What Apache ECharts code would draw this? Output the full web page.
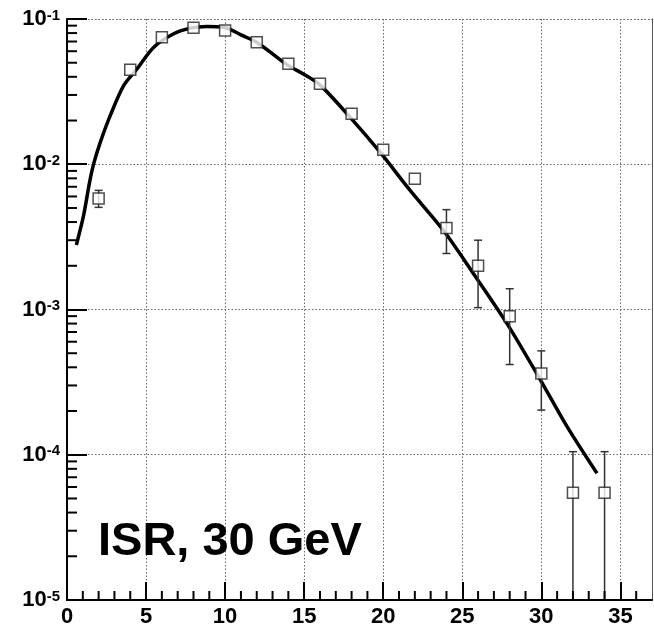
<!DOCTYPE html>
<html>
<head>
<meta charset="utf-8">
<script src="https://cdn.jsdelivr.net/npm/echarts@6/dist/echarts.min.js"></script>
<style>
  html, body { margin: 0; padding: 0; background: #fff; }
  #chart-container { width: 654px; height: 628px; }
</style>
</head>
<body>
<div id="chart-container"></div>
<script>
// measured points (open squares)
var pointX = [2, 4, 6, 8, 10, 12, 14, 16, 18, 20, 22, 24, 26, 28, 30, 32, 34];
var pointY = [5.8e-3, 0.0448, 0.075, 0.087, 0.0833, 0.0692, 0.0492, 0.0358, 0.0223,
              0.0126, 7.96e-3, 3.64e-3, 2.0e-3, 9.0e-4, 3.63e-4, 5.48e-5, 5.48e-5];
// error bar ends (null = hidden inside the marker)
var errHigh = [6.61e-3, null, null, null, null, null, null, null, null,
               null, null, 4.87e-3, 3.0e-3, 1.39e-3, 5.19e-4, 1.05e-4, 1.05e-4];
var errLow = [5.05e-3, null, null, null, null, null, null, null, null,
              null, null, 2.43e-3, 1.03e-3, 4.18e-4, 2.03e-4, 1e-6, 1e-6];

// fitted curve
var curveX = [0.59, 1.05, 1.43, 1.69, 2.11, 2.74, 3.59, 4.43, 5.49, 6.75, 7.8, 8.86,
              9.92, 10.97, 12.0, 13.9, 15.0, 16.0, 17.9, 19.8, 21.7, 23.8, 25.7, 27.83,
              29.83, 31.63, 33.52];
var curveY = [2.78e-3, 4.45e-3, 7.54e-3, 0.0101, 0.0142, 0.0217, 0.0349, 0.0454, 0.064,
              0.0791, 0.0865, 0.0888, 0.0878, 0.078, 0.0692, 0.0485, 0.0415, 0.0352, 0.0211,
              0.0121, 6.61e-3, 3.51e-3, 1.77e-3, 8.0e-4, 3.44e-4, 1.56e-4, 7.45e-5];

var xMin = 0, xMax = 37, yMin = 1e-5, yMax = 1e-1;
var label = 'ISR, 30 GeV';

var dom = document.getElementById('chart-container');
var myChart = echarts.init(dom, null, { renderer: 'canvas' });

var points = pointX.map(function (x, i) { return [x, pointY[i]]; });
var curve = curveX.map(function (x, i) { return [x, curveY[i]]; });
var errors = [];
pointX.forEach(function (x, i) {
  if (errHigh[i] != null) errors.push([x, errLow[i], errHigh[i]]);
});

// minor ticks: [x, y, 0 = on x axis / 1 = on y axis]
var minorTicks = [];
for (var k = 1; k < xMax; k++) if (k % 5 !== 0) minorTicks.push([k, yMin, 0]);
for (var d = -5; d < -1; d++) {
  for (var m = 2; m <= 9; m++) minorTicks.push([xMin, m * Math.pow(10, d), 1]);
}

var labelFont = 'Liberation Sans, Arial, sans-serif';
var tickColor = '#000';

option = {
  animation: false,
  grid: { left: 67, right: 2, top: 19, bottom: 28 },
  xAxis: {
    type: 'value',
    min: xMin,
    max: xMax,
    interval: 5,
    axisLine: { show: true, onZero: false, lineStyle: { color: '#000', width: 2 } },
    axisTick: { show: true, inside: true, length: 18, lineStyle: { color: tickColor, width: 2 } },
    axisLabel: {
      showMaxLabel: false,
      margin: 6,
      color: '#000',
      fontFamily: labelFont,
      fontWeight: 'bold',
      fontSize: 22,
      formatter: function (v) { return v % 5 === 0 ? String(v) : ''; }
    },
    splitLine: { show: true, lineStyle: { color: '#666', type: [1.5, 2], width: 1 } }
  },
  yAxis: [
    {
      type: 'log',
      min: yMin,
      max: yMax,
      logBase: 10,
      axisLine: { show: true, lineStyle: { color: '#000', width: 2 } },
      axisTick: { show: true, inside: true, length: 20, lineStyle: { color: tickColor, width: 2 } },
      axisLabel: {
        margin: 7,
        color: '#000',
        formatter: function (v) {
          return '{b|10}{s|' + Math.round(Math.log10(v)) + '}';
        },
        rich: {
          b: { fontFamily: labelFont, fontWeight: 'bold', fontSize: 22, lineHeight: 22, color: '#000' },
          s: { fontFamily: labelFont, fontWeight: 'bold', fontSize: 15, lineHeight: 15, verticalAlign: 'top', color: '#000', padding: [0, 0, 8, 0] }
        }
      },
      splitLine: { show: true, lineStyle: { color: '#666', type: [1.5, 2], width: 1 } }
    },
    {
      type: 'log',
      min: yMin,
      max: yMax,
      position: 'right',
      axisLine: { show: true, lineStyle: { color: '#555', width: 1 } },
      axisTick: { show: false },
      axisLabel: { show: false },
      splitLine: { show: false }
    }
  ],
  graphic: [
    {
      type: 'text',
      left: 98,
      top: 519,
      style: {
        text: label,
        font: 'bold 47px ' + labelFont,
        fill: '#000'
      },
      z: 10
    }
  ],
  series: [
    {
      // minor ticks on both axes
      type: 'custom',
      data: minorTicks,
      clip: false,
      z: 6,
      renderItem: function (params, api) {
        var p = api.coord([api.value(0), api.value(1)]);
        var onY = api.value(2) === 1;
        return {
          type: 'line',
          shape: onY
            ? { x1: p[0], y1: p[1], x2: p[0] + 10, y2: p[1] }
            : { x1: p[0], y1: p[1], x2: p[0], y2: p[1] - 9 },
          style: { stroke: tickColor, lineWidth: 2 }
        };
      }
    },
    {
      type: 'line',
      data: curve,
      smooth: 0.3,
      showSymbol: false,
      silent: true,
      lineStyle: { color: '#000', width: 3.5 },
      z: 3
    },
    {
      // error bars
      type: 'custom',
      data: errors,
      clip: true,
      silent: true,
      z: 4,
      renderItem: function (params, api) {
        var x = api.value(0);
        var lo = api.coord([x, api.value(1)]);
        var hi = api.coord([x, api.value(2)]);
        var c = 4;
        var style = { stroke: '#333', lineWidth: 1.5 };
        return {
          type: 'group',
          children: [
            { type: 'line', shape: { x1: lo[0], y1: lo[1], x2: hi[0], y2: hi[1] }, style: style },
            { type: 'line', shape: { x1: hi[0] - c, y1: hi[1], x2: hi[0] + c, y2: hi[1] }, style: style },
            { type: 'line', shape: { x1: lo[0] - c, y1: lo[1], x2: lo[0] + c, y2: lo[1] }, style: style }
          ]
        };
      }
    },
    {
      type: 'scatter',
      data: points,
      symbol: 'rect',
      symbolSize: 11,
      silent: true,
      itemStyle: { color: '#fff', borderColor: '#222', borderWidth: 1.5 },
      z: 5
    }
  ]
};

if (option && typeof option === 'object') {
  myChart.setOption(option);
}

window.addEventListener('resize', myChart.resize);
</script>
</body>
</html>
